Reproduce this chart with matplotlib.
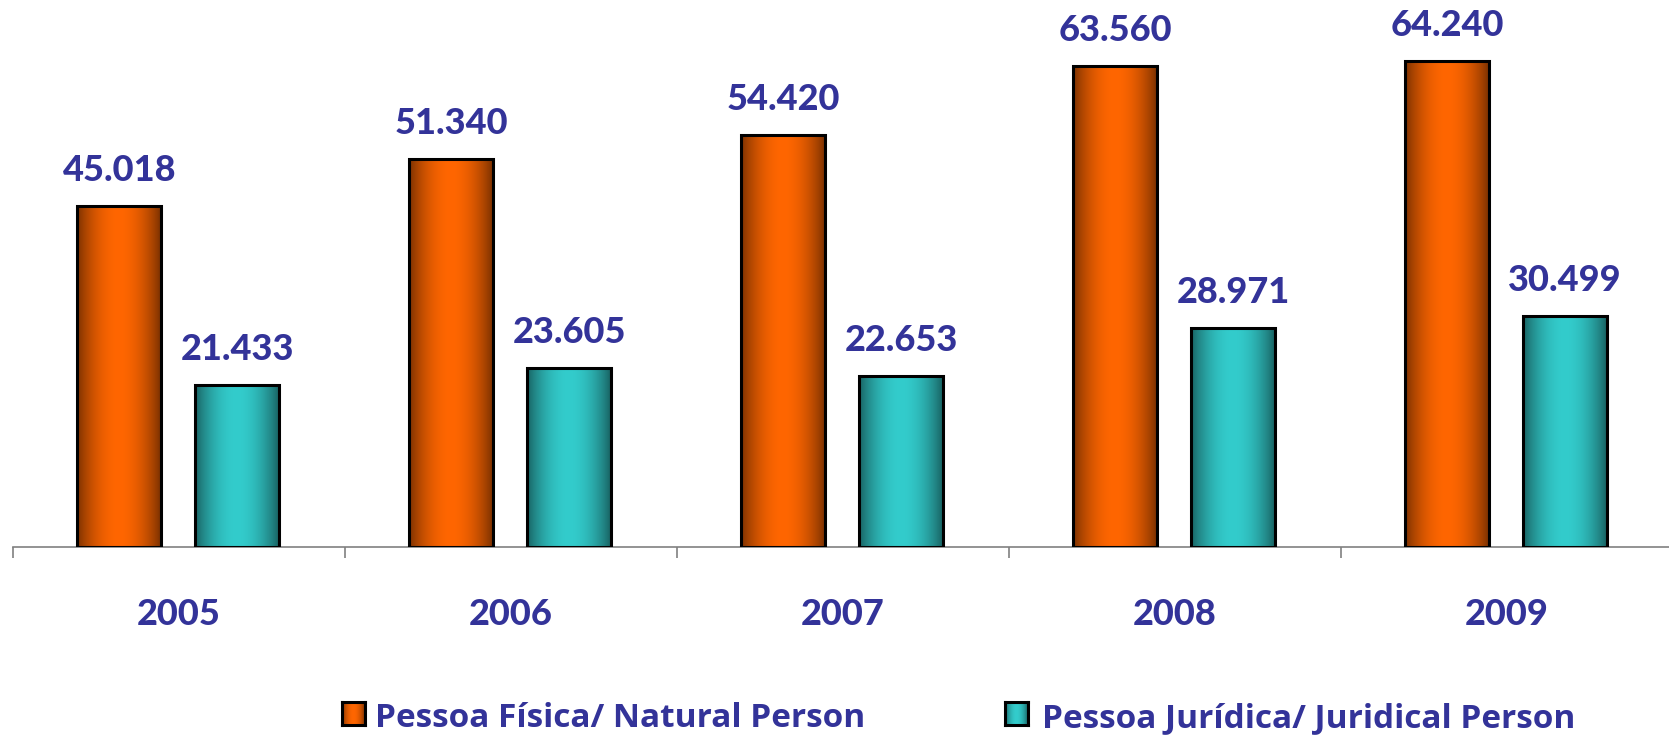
import numpy as np
import matplotlib.pyplot as plt
from matplotlib.transforms import blended_transform_factory

years = ['2005', '2006', '2007', '2008', '2009']
natural = [45.018, 51.340, 54.420, 63.560, 64.240]
juridical = [21.433, 23.605, 22.653, 28.971, 30.499]
natural_labels = ['45.018', '51.340', '54.420', '63.560', '64.240']
juridical_labels = ['21.433', '23.605', '22.653', '28.971', '30.499']
legend_names = ['Pessoa Física/ Natural Person', 'Pessoa Jurídica/ Juridical Person']

orange = np.array([1.0, 0.40, 0.0])
teal = np.array([0.20, 0.80, 0.80])
text_col = '#333399'

plt.rcParams['font.family'] = ['Lato', 'DejaVu Sans']


def gradient(base, n=200):
    t = np.linspace(0, 1, n)
    shade = 0.46 + 0.54 * np.sin(np.pi * t) ** 0.8
    img = base[None, :] * shade[:, None]
    return img[None, :, :]


W, H = 1669, 736
fig = plt.figure(figsize=(W / 100, H / 100), dpi=100)
ax = fig.add_axes([13 / W, (H - 547) / H, 5 * 332 / W, 547 / H])

x = np.arange(len(years))
bw = 0.253
offs = [-0.18, 0.175]
for vals, labs, col, off in [(natural, natural_labels, orange, offs[0]),
                             (juridical, juridical_labels, teal, offs[1])]:
    img = gradient(col)
    for xi, v, lab in zip(x, vals, labs):
        x0 = xi + off - bw / 2
        ax.imshow(img, extent=[x0, x0 + bw, 0, v], aspect='auto', zorder=2,
                  interpolation='bilinear')
        ax.annotate(lab, (xi + off, v), xytext=(0, 18), textcoords='offset points',
                    ha='center', va='baseline', fontsize=26, color=text_col,
                    fontweight=900)
    ax.bar(x + off, vals, width=bw, facecolor='none', edgecolor='black',
           linewidth=2.2, zorder=3)

ax.set_xlim(-0.5, len(years) - 0.5)
ax.set_ylim(0, 72.3)
for s in ['top', 'left', 'right']:
    ax.spines[s].set_visible(False)
ax.spines['bottom'].set_color('#808080')
ax.spines['bottom'].set_linewidth(1.2)
ax.set_yticks([])
ax.set_xticks(np.arange(len(years) + 1) - 0.5)
ax.set_xticklabels([])
ax.tick_params(axis='x', direction='out', length=8, color='#808080', width=1.2)

tr = blended_transform_factory(ax.transData, ax.transAxes)
for xi, y in zip(x, years):
    ax.text(xi, -0.1426, y, transform=tr, ha='center', va='baseline',
            fontsize=26, color=text_col, fontweight=900)

# legend
for mx, tx, col, name in [(342, 375, orange, legend_names[0]),
                          (1005, 1042, teal, legend_names[1])]:
    lax = fig.add_axes([mx / W, (H - 725) / H, 23 / W, 23 / H])
    lax.imshow(gradient(col), aspect='auto', extent=[0, 1, 0, 1])
    lax.set_xticks([])
    lax.set_yticks([])
    for s in lax.spines.values():
        s.set_linewidth(2.2)
        s.set_color('black')
    fig.text(tx / W, (H - 727) / H, name, ha='left', va='baseline',
             fontsize=24, color=text_col, fontweight='bold',
             family=['Open Sans', 'DejaVu Sans'])

fig.savefig('out.png', dpi=100)
